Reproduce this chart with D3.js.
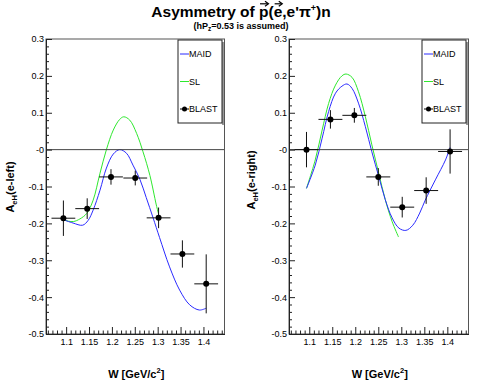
<!DOCTYPE html>
<html>
<head>
<meta charset="utf-8">
<script src="https://cdn.jsdelivr.net/npm/d3@7"></script>
<style>
  body { margin: 0; background: #fff; }
  svg { display: block; }
  text { font-family: "Liberation Sans", Arial, sans-serif; fill: #000; }
</style>
</head>
<body>
<script>
// ---- data ----
var xTickVals = [1.1, 1.15, 1.2, 1.25, 1.3, 1.35, 1.4];
var xTickLabels = ["1.1", "1.15", "1.2", "1.25", "1.3", "1.35", "1.4"];
var yTickVals = [-0.5, -0.4, -0.3, -0.2, -0.1, 0, 0.1, 0.2, 0.3];
var yTickLabels = ["-0.5", "-0.4", "-0.3", "-0.2", "-0.1", "-0", "0.1", "0.2", "0.3"];

var binHalf = 0.026;

var leftW   = [1.094, 1.146, 1.198, 1.251, 1.302, 1.354, 1.406];
var leftA   = [-0.186, -0.160, -0.074, -0.077, -0.185, -0.283, -0.364];
var leftErr = [0.048, 0.028, 0.021, 0.020, 0.028, 0.037, 0.080];

var rightW   = [1.094, 1.146, 1.198, 1.250, 1.302, 1.354, 1.406];
var rightA   = [0.000, 0.082, 0.093, -0.074, -0.156, -0.111, -0.005];
var rightErr = [0.048, 0.025, 0.020, 0.024, 0.028, 0.036, 0.060];

// theory curves [W, A]
var maidLeft = [[1.094,-0.190],[1.115,-0.199],[1.136,-0.205],[1.148,-0.192],[1.159,-0.164],
  [1.174,-0.110],[1.188,-0.050],[1.203,-0.012],[1.217,0.000],[1.232,-0.010],[1.246,-0.042],
  [1.261,-0.080],[1.275,-0.130],[1.290,-0.185],[1.304,-0.238],[1.326,-0.318],[1.348,-0.381],
  [1.370,-0.421],[1.391,-0.435],[1.406,-0.430]];
var slLeft = [[1.094,-0.190],[1.105,-0.194],[1.116,-0.195],[1.130,-0.188],[1.145,-0.173],
  [1.159,-0.137],[1.174,-0.064],[1.188,0.000],[1.203,0.053],[1.217,0.082],[1.226,0.089],
  [1.239,0.080],[1.254,0.044],[1.268,-0.006],[1.283,-0.070],[1.297,-0.150],[1.302,-0.175]];
var maidRight = [[1.094,-0.105],[1.113,-0.042],[1.128,0.031],[1.142,0.103],[1.157,0.153],
  [1.171,0.172],[1.182,0.178],[1.193,0.166],[1.207,0.126],[1.222,0.062],[1.236,-0.006],
  [1.251,-0.073],[1.265,-0.135],[1.280,-0.185],[1.295,-0.213],[1.310,-0.219],[1.325,-0.205],
  [1.340,-0.172],[1.352,-0.137],[1.374,-0.082],[1.396,-0.028],[1.406,0.006]];
var slRight = [[1.094,-0.105],[1.113,-0.028],[1.128,0.053],[1.142,0.125],[1.157,0.175],
  [1.171,0.200],[1.180,0.205],[1.193,0.196],[1.207,0.157],[1.222,0.089],[1.236,0.013],
  [1.251,-0.064],[1.265,-0.135],[1.280,-0.195],[1.294,-0.237]];

var legendNames = ["MAID", "SL", "BLAST"];
var maidColor = "#2b2bff", slColor = "#2ee82e";

var width = 481, height = 383;
var svg = d3.select("body").append("svg")
	.attr("width", width)
	.attr("height", height);

svg.append("rect").attr("width", width).attr("height", height).attr("fill", "#fff");

// ---- title ----
var title = svg.append("text")
	.attr("x", 241).attr("y", 16.5)
	.attr("text-anchor", "middle")
	.style("font-size", "15.5px").style("font-weight", "bold");
title.append("tspan").text("Asymmetry of p(e,e'\u03c0");
title.append("tspan").attr("dy", -6).style("font-size", "9px").text("+");
title.append("tspan").attr("dy", 6).text(")n");

// arrows over p and e
var titleNode = title.node();
var fullStr = "Asymmetry of p(e,e'\u03c0";
[fullStr.indexOf("p("), fullStr.indexOf("(e") + 1].forEach(function (ci) {
	var ext = titleNode.getExtentOfChar(ci);
	var x1 = ext.x + 1, x2 = ext.x + ext.width - 0.5, ya = 3.8;
	svg.append("line").attr("x1", x1).attr("x2", x2).attr("y1", ya).attr("y2", ya)
		.attr("stroke", "#000").attr("stroke-width", 1.2);
	svg.append("path")
		.attr("d", "M" + (x2 - 3) + "," + (ya - 2.5) + "L" + (x2 + 0.5) + "," + ya + "L" + (x2 - 3) + "," + (ya + 2.5))
		.attr("fill", "none").attr("stroke", "#000").attr("stroke-width", 1.2);
});

var sub = svg.append("text")
	.attr("x", 241).attr("y", 28.5)
	.attr("text-anchor", "middle")
	.style("font-size", "9px").style("font-weight", "bold");
sub.append("tspan").text("(hP");
sub.append("tspan").attr("dy", 2).style("font-size", "6.5px").text("z");
sub.append("tspan").attr("dy", -2).text("=0.53 is assumed)");

// ---- panels ----
function drawPanel(p) {
	var x = d3.scaleLinear().domain([1.056, 1.446]).range([p.left, p.right]);
	var y = d3.scaleLinear().domain([-0.5, 0.3]).range([p.bottom, p.top]);
	var g = svg.append("g");

	var line = d3.line()
		.x(function (d) { return x(d[0]); })
		.y(function (d) { return y(d[1]); })
		.curve(d3.curveCatmullRom);

	g.append("path").datum(p.sl).attr("d", line)
		.attr("fill", "none").attr("stroke", slColor).attr("stroke-width", 1);
	g.append("path").datum(p.maid).attr("d", line)
		.attr("fill", "none").attr("stroke", maidColor).attr("stroke-width", 1);

	// zero line
	g.append("line")
		.attr("x1", p.left).attr("x2", p.right)
		.attr("y1", y(0)).attr("y2", y(0))
		.attr("stroke", "#444").attr("stroke-width", 1);

	// data points with errors
	var pts = p.W.map(function (w, i) { return { w: w, a: p.A[i], e: p.err[i] }; });
	var pg = g.selectAll(".pt").data(pts).enter().append("g").attr("class", "pt");
	pg.append("line")
		.attr("x1", function (d) { return x(d.w - binHalf); })
		.attr("x2", function (d) { return x(d.w + binHalf); })
		.attr("y1", function (d) { return y(d.a); })
		.attr("y2", function (d) { return y(d.a); })
		.attr("stroke", "#111").attr("stroke-width", 1);
	pg.append("line")
		.attr("x1", function (d) { return x(d.w); })
		.attr("x2", function (d) { return x(d.w); })
		.attr("y1", function (d) { return y(d.a - d.e); })
		.attr("y2", function (d) { return y(d.a + d.e); })
		.attr("stroke", "#111").attr("stroke-width", 1);
	pg.append("circle")
		.attr("cx", function (d) { return x(d.w); })
		.attr("cy", function (d) { return y(d.a); })
		.attr("r", 3).attr("fill", "#000");

	// frame
	g.append("rect")
		.attr("x", p.left).attr("y", p.top)
		.attr("width", p.right - p.left).attr("height", p.bottom - p.top)
		.attr("fill", "none").attr("stroke", "#555").attr("stroke-width", 1);

	// axes (ticks point inward)
	var yMinor = d3.range(-0.5, 0.3001, 0.02).filter(function (v) {
		return Math.abs(v * 10 - Math.round(v * 10)) > 1e-6;
	});
	var xMinor = d3.range(1.06, 1.4451, 0.01).filter(function (v) {
		return Math.abs(v * 20 - Math.round(v * 20)) > 1e-6;
	});

	var yAx = g.append("g").attr("transform", "translate(" + p.left + ",0)")
		.call(d3.axisLeft(y).tickValues(yTickVals)
			.tickFormat(function (d, i) { return yTickLabels[i]; })
			.tickSizeInner(-6).tickSizeOuter(0).tickPadding(2));
	g.append("g").attr("transform", "translate(" + p.left + ",0)")
		.call(d3.axisLeft(y).tickValues(yMinor).tickFormat("")
			.tickSizeInner(-3).tickSizeOuter(0))
		.select(".domain").remove();

	var xAx = g.append("g").attr("transform", "translate(0," + p.bottom + ")")
		.call(d3.axisBottom(x).tickValues(xTickVals)
			.tickFormat(function (d, i) { return xTickLabels[i]; })
			.tickSizeInner(-7).tickSizeOuter(0).tickPadding(5));
	g.append("g").attr("transform", "translate(0," + p.bottom + ")")
		.call(d3.axisBottom(x).tickValues(xMinor).tickFormat("")
			.tickSizeInner(-3.5).tickSizeOuter(0))
		.select(".domain").remove();

	g.selectAll(".tick line").attr("stroke", "#222");
	g.selectAll(".domain").attr("stroke", "#222");
	[yAx, xAx].forEach(function (ax) {
		ax.selectAll("text").style("font-size", "9px")
			.style("font-family", "'Liberation Sans', Arial, sans-serif").attr("fill", "#111");
	});

	// axis titles
	var yt = g.append("text")
		.attr("transform", "translate(" + p.ytX + "," + p.ytY + ") rotate(-90)")
		.attr("text-anchor", "middle")
		.style("font-size", "11px").style("font-weight", "bold");
	yt.append("tspan").text("A");
	yt.append("tspan").attr("dy", 3).style("font-size", "7.5px").text("eH");
	yt.append("tspan").attr("dy", -3).text(p.ytitle);

	var xt = g.append("text")
		.attr("x", (p.left + p.right) / 2 + 1).attr("y", 378)
		.attr("text-anchor", "middle")
		.style("font-size", "11px").style("font-weight", "bold");
	xt.append("tspan").text("W [GeV/c");
	xt.append("tspan").attr("dy", -5).style("font-size", "7.5px").text("2");
	xt.append("tspan").attr("dy", 5).text("]");

	// legend
	var lx = p.right - 46.5, ly = 40, lw = 44, lh = 83;
	g.append("rect").attr("x", lx + lw).attr("y", ly + 2).attr("width", 2).attr("height", lh)
		.attr("fill", "#999");
	g.append("rect").attr("x", lx).attr("y", ly).attr("width", lw).attr("height", lh)
		.attr("fill", "#fff").attr("stroke", "#222").attr("stroke-width", 1);
	var rowY = [54, 81.5, 109];
	legendNames.forEach(function (name, i) {
		var ry = rowY[i];
		var col = i === 0 ? maidColor : (i === 1 ? slColor : "#000");
		g.append("line").attr("x1", lx + 2).attr("x2", lx + 11)
			.attr("y1", ry).attr("y2", ry).attr("stroke", col).attr("stroke-width", 1);
		if (i === 2) {
			g.append("circle").attr("cx", lx + 6.5).attr("cy", ry).attr("r", 2.5).attr("fill", "#000");
		}
		g.append("text").attr("x", lx + 11).attr("y", ry + 3.2)
			.style("font-size", "9px").attr("fill", "#111").text(name);
	});
}

drawPanel({ left: 46, right: 224.5, top: 39, bottom: 334,
	W: leftW, A: leftA, err: leftErr, maid: maidLeft, sl: slLeft,
	ytitle: "(e-left)", ytX: 14, ytY: 187 });
drawPanel({ left: 289, right: 468.5, top: 39, bottom: 334,
	W: rightW, A: rightA, err: rightErr, maid: maidRight, sl: slRight,
	ytitle: "(e-right)", ytX: 255, ytY: 180 });
</script>
</body>
</html>
